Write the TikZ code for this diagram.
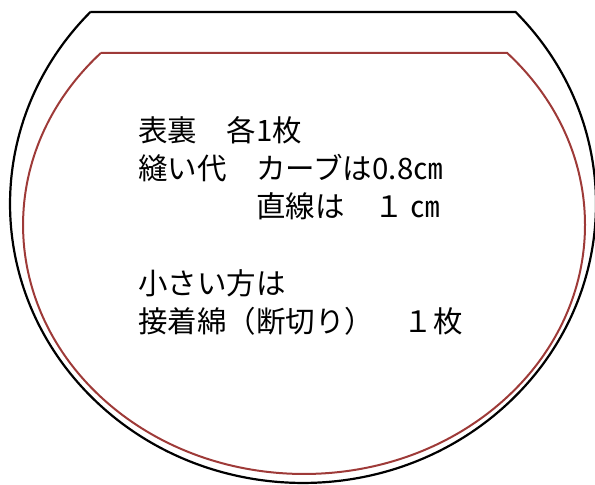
\documentclass[tikz,border=0pt]{standalone}
\usepackage{fontspec}
\newfontfamily\jpfont{Noto Sans CJK JP}
\usepackage{tikz}
\definecolor{seamred}{HTML}{9E3A38}
\tikzstyle{cutline} = [draw=black, line width=2.2pt]
\tikzstyle{sewline} = [draw=seamred, line width=2pt]
\tikzstyle{memo} = [anchor=base west, inner sep=0pt, font=\jpfont\fontsize{29.5}{38}\selectfont]

\begin{document}
\begin{tikzpicture}[x=1pt, y=1pt]
\useasboundingbox (0,0) rectangle (595,485);
% outer cutting line
\draw [cutline] (90.4,473) -- (515.6,473) arc[start angle=43.48, end angle=-223.48, x radius=293, y radius=279] -- cycle;
% seam line
\draw [sewline] (100.8,432) -- (507.2,432) arc[start angle=43.69, end angle=-223.69, x radius=281, y radius=249] -- cycle;

\node (front) [memo] at (138,343) {表裏　各1枚};
\node (margin) [memo] at (138,305) {縫い代　カーブは0.8㎝};
\node (straight) [memo] at (138,267) {　　　　直線は　１ ㎝};
\node (small) [memo] at (138,190) {小さい方は};
\node (batting) [memo] at (138,152) {接着綿（断切り）　１枚};
\end{tikzpicture}
\end{document}
